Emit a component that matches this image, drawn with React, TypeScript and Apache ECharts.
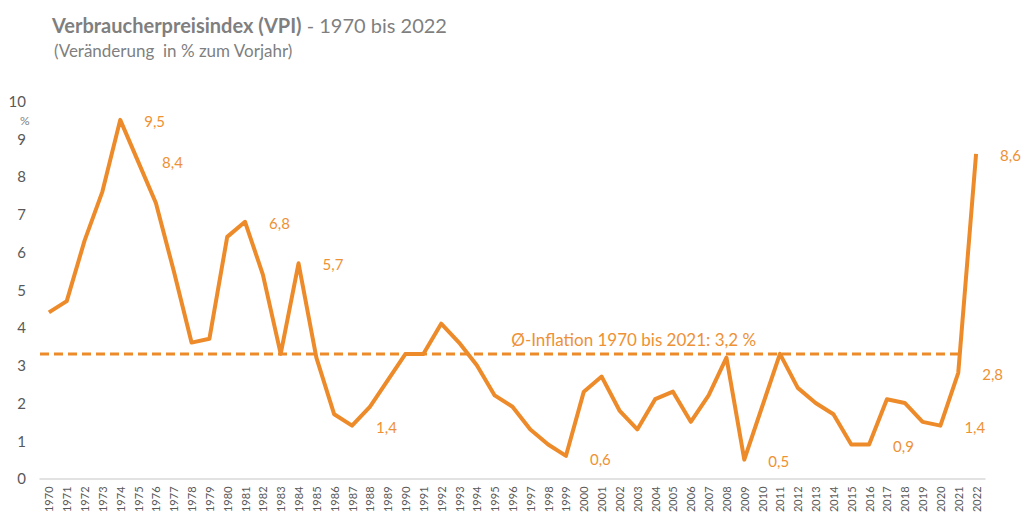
import React, { useEffect, useRef } from "react";
import * as echarts from "echarts";

const years: string[] = [
  "1970","1971","1972","1973","1974","1975","1976","1977","1978","1979",
  "1980","1981","1982","1983","1984","1985","1986","1987","1988","1989",
  "1990","1991","1992","1993","1994","1995","1996","1997","1998","1999",
  "2000","2001","2002","2003","2004","2005","2006","2007","2008","2009",
  "2010","2011","2012","2013","2014","2015","2016","2017","2018","2019",
  "2020","2021","2022",
];

const vpi: number[] = [
  4.4, 4.7, 6.3, 7.6, 9.5, 8.4, 7.3, 5.5, 3.6, 3.7,
  6.4, 6.8, 5.4, 3.3, 5.7, 3.2, 1.7, 1.4, 1.9, 2.6,
  3.3, 3.3, 4.1, 3.6, 3.0, 2.2, 1.9, 1.3, 0.9, 0.6,
  2.3, 2.7, 1.8, 1.3, 2.1, 2.3, 1.5, 2.2, 3.2, 0.5,
  1.9, 3.3, 2.4, 2.0, 1.7, 0.9, 0.9, 2.1, 2.0, 1.5,
  1.4, 2.8, 8.6,
];

const labeledYears: string[] = ["1974","1975","1981","1984","1987","1999","2009","2016","2020","2021","2022"];

const avgValue = 3.3; // drawn position of the average line
const avgText = "Ø-Inflation 1970 bis 2021: 3,2 %";
const avgEndYear = "2021";

const yTicks = { min: 0, max: 10, interval: 1 };

const ORANGE = "#ED8B2A";
const LABEL_ORANGE = "#EE9135";
const GRAY = "#595959";
const FONT = "Lato";

export default function App() {
  const ref = useRef<HTMLDivElement>(null);
  useEffect(() => {
    if (!ref.current) return;
    const chart = echarts.init(ref.current, undefined, { renderer: "svg" });
    const fmt = (v: number) => v.toFixed(1).replace(".", ",");
    const lineData = vpi.map((v, i) => {
      const labeled = labeledYears.indexOf(years[i]) >= 0;
      return {
        value: v,
        label: {
          show: labeled,
          position: "right",
          distance: 24,
          offset: years[i] === "1999" ? [0, 3] : [0, 1],
          formatter: () => fmt(v),
        },
      };
    });
    const endIdx = years.indexOf(avgEndYear);
    const avgData: any[] = [
      { value: [-0.5, avgValue], label: { show: false } },
      {
        value: [32.8, avgValue],
        label: {
          show: true,
          position: "top",
          distance: 6,
          formatter: avgText,
          color: LABEL_ORANGE,
          fontSize: 17,
          fontFamily: FONT,
        },
      },
      { value: [endIdx, avgValue], label: { show: false } },
    ];
    chart.setOption({
      animation: false,
      textStyle: { fontFamily: FONT },
      title: [
        {
          left: 47,
          top: 10,
          text: "{b|Verbraucherpreisindex (VPI)}{r| - 1970 bis 2022}",
          textStyle: {
            rich: {
              b: { fontSize: 20, fontWeight: "bold", color: "#7F7F7F", fontFamily: FONT },
              r: { fontSize: 20, fontWeight: "normal", color: "#7F7F7F", fontFamily: FONT },
            },
          },
        },
        {
          left: 49,
          top: 37,
          text: "(Veränderung  in % zum Vorjahr)",
          textStyle: { fontSize: 17, fontWeight: "normal", color: "#7F7F7F", fontFamily: FONT },
        },
      ],
      graphic: [
        {
          type: "text",
          left: 20,
          top: 114,
          style: { text: "%", fontSize: 12, fill: "#7F7F7F", fontFamily: FONT },
        },
      ],
      grid: { left: 40, right: 39, top: 101, bottom: 34, containLabel: false },
      xAxis: [
        {
          type: "category",
          data: years,
          boundaryGap: true,
          axisTick: { show: false },
          axisLine: { lineStyle: { color: "#D9D9D9", width: 1.5 } },
          axisLabel: { rotate: 90, interval: 0, fontSize: 11, color: GRAY, margin: 8, fontFamily: FONT },
        },
        { type: "value", min: -0.5, max: years.length - 0.5, show: false },
      ],
      yAxis: {
        type: "value",
        min: yTicks.min,
        max: yTicks.max,
        interval: yTicks.interval,
        splitLine: { show: false },
        axisLine: { show: false },
        axisTick: { show: false },
        axisLabel: { fontSize: 15, color: GRAY, margin: 14, fontFamily: FONT },
      },
      series: [
        {
          type: "line",
          xAxisIndex: 1,
          data: avgData,
          symbol: "circle",
          symbolSize: 0,
          showSymbol: true,
          showAllSymbol: true,
          lineStyle: { color: ORANGE, width: 3, type: [9, 5] },
          itemStyle: { color: ORANGE },
          silent: true,
          z: 1,
        },
        {
          type: "line",
          xAxisIndex: 0,
          data: lineData,
          symbol: "circle",
          symbolSize: 0,
          showSymbol: true,
          showAllSymbol: true,
          itemStyle: { color: ORANGE },
          lineStyle: { color: ORANGE, width: 4, join: "round" },
          label: { color: LABEL_ORANGE, fontSize: 15, fontFamily: FONT },
          z: 2,
        },
      ],
    });
    return () => chart.dispose();
  }, []);
  return <div ref={ref} style={{ width: 1024, height: 515, position: "absolute", left: 0, top: 0 }} />;
}
